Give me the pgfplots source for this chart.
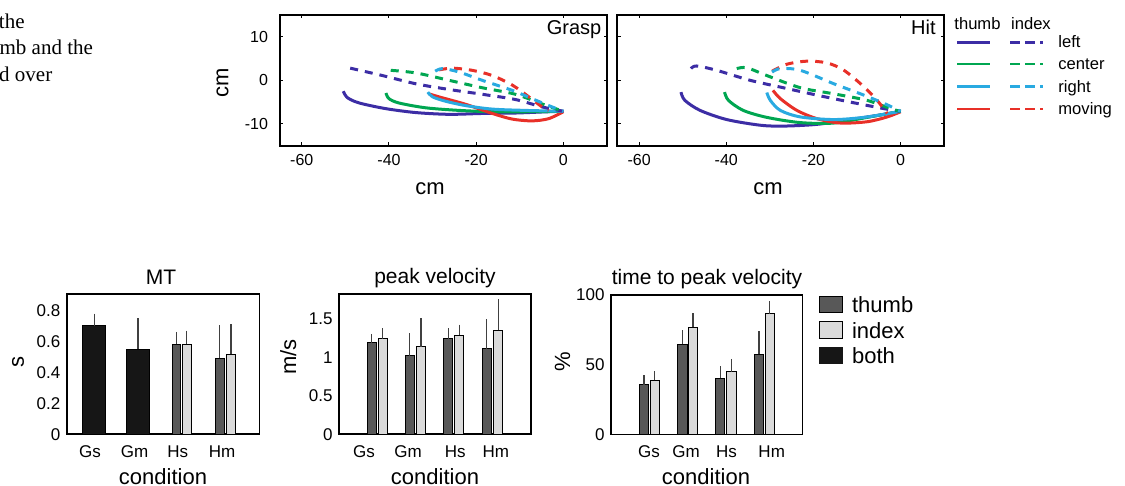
\documentclass[border=0pt]{standalone}
\usepackage{fontspec}
\setmainfont{Liberation Sans}
\newfontfamily\seriffont{Liberation Serif}
\usepackage{pgfplots}
\pgfplotsset{compat=1.18}

\definecolor{cleft}{RGB}{60,45,165}
\definecolor{ccenter}{RGB}{0,166,81}
\definecolor{cright}{RGB}{41,170,225}
\definecolor{cmove}{RGB}{232,48,40}
\definecolor{thumbc}{RGB}{88,88,88}
\definecolor{indexc}{RGB}{218,218,218}
\definecolor{bothc}{RGB}{22,22,22}

\newcommand\fs[1]{\fontsize{#1}{#1}\selectfont}

\pgfplotsset{
  topax/.style={scale only axis, width=163.5pt, height=65.35pt,
    xmin=-65, xmax=10, ymin=-15, ymax=15,
    xtick={-60,-40,-20,0}, ytick={-10,0,10},
    tick align=inside, tick pos=both, major tick length=1.7pt,
    axis line style={line width=1pt}, tick style={black, line width=0.5pt},
    ticklabel style={font=\fs{8}},
    xticklabel style={anchor=base, inner sep=0pt, yshift=-10pt},
    yticklabel style={anchor=east, inner sep=0pt, xshift=-5.85pt},
    /pgf/number format/assume math mode=true},
  botax/.style={scale only axis, width=96pt, height=70pt, ymin=0,
    major tick length=0pt, axis line style={line width=0.8pt},
    ticklabel style={font=\fs{8.5}},
    xticklabel style={anchor=base, inner sep=0pt, yshift=-11.5pt},
    yticklabel style={anchor=east, inner sep=0pt, xshift=-3pt},
    xticklabels={Gs,Gm,Hs,Hm},
    /pgf/number format/assume math mode=true},
  sol/.style={line width=1.5pt, smooth, tension=0.5},
  dsh/.style={line width=1.5pt, smooth, tension=0.5, dash pattern=on 4pt off 3.5pt},
  bars/.style={ybar, bar shift=0pt, draw=black, line width=0.5pt,
    error bars/y dir=plus, error bars/y explicit,
    error bars/error bar style={black!75, line width=0.6pt},
    error bars/error mark options={black!75, mark size=1pt, line width=0.6pt}},
}

\begin{document}
\begin{tikzpicture}
\useasboundingbox (0,0) rectangle (562.5pt,-243pt);

% cropped caption text from the page
\begin{scope}
\clip (0,0) rectangle (562.5pt,-243pt);
\seriffont\fs{10.5}
\node[anchor=base east, inner sep=0pt] at (12.5pt,-14.15pt) {the};
\node[anchor=base east, inner sep=0pt] at (46.65pt,-27.5pt) {thumb and the};
\node[anchor=base east, inner sep=0pt] at (26.35pt,-40.85pt) {moved over};
\end{scope}

% ---------- Grasp ----------
\begin{axis}[topax, at={(140pt,-7.5pt)}, anchor=north west]
\addplot[cleft, sol] coordinates {(-50.5,-2.5) (-49.5,-4.0) (-46.8,-5.2) (-40.7,-6.5) (-33.8,-7.4) (-26.2,-7.8) (-18.6,-7.6) (-11,-7.5) (-3.4,-7.2) (0,-7.1)};
\addplot[ccenter, sol] coordinates {(-40.7,-2.9) (-40,-4.2) (-37.7,-5.2) (-31.6,-6.3) (-23.9,-6.9) (-16.3,-7.2) (-7.2,-7.2) (0,-7.1)};
\addplot[cmove, sol] coordinates {(-30.8,-3.1) (-28.5,-3.8) (-22.4,-5.5) (-16.3,-7.6) (-11.7,-8.9) (-7.2,-9.3) (-3.4,-8.8) (0,-7.2)};
\addplot[cright, sol] coordinates {(-31.1,-2.7) (-30,-3.8) (-27,-4.8) (-22.4,-5.8) (-16.3,-6.6) (-8.7,-6.9) (0,-7.1)};
\addplot[cleft, dsh] coordinates {(-48.9,2.8) (-41.5,1.1) (-33.8,-0.8) (-26.2,-2.1) (-18.6,-3.2) (-11,-4.4) (-4.9,-6.1) (0,-7.1)};
\addplot[ccenter, dsh] coordinates {(-39.6,2.3) (-33.8,1.7) (-26.2,0) (-18.6,-1.7) (-11,-3.2) (-4.1,-5.7) (0,-7.1)};
\addplot[cmove, dsh] coordinates {(-28.5,2.4) (-25.5,2.8) (-20.9,2.3) (-16.3,1.1) (-11.7,-1.1) (-7.9,-3.8) (-4.9,-6.1) (-3.4,-6.9)};
\addplot[cright, dsh] coordinates {(-29.4,2.1) (-27.7,2.7) (-23.9,1.9) (-18.6,0) (-11.7,-2.3) (-7.2,-4.2) (-2.6,-6.1) (0,-7.1)};
\end{axis}
\node[anchor=base, rotate=90, font=\fs{11}] at (114.15pt,-41.5pt) {cm};
\node[anchor=base, font=\fs{11}] at (215pt,-97.5pt) {cm};
\node[anchor=base east, inner sep=0pt, font=\fs{10}] at (300.85pt,-17.5pt) {Grasp};

% ---------- Hit ----------
\begin{axis}[topax, at={(308.65pt,-7.5pt)}, anchor=north west, yticklabels={}]
\addplot[cleft, sol] coordinates {(-50.4,-2.7) (-49.5,-4.6) (-46,-6.9) (-39.9,-9.0) (-32.2,-10.3) (-26.9,-10.5) (-19.2,-10.1) (-11.5,-9.0) (-3.8,-7.8) (0,-7.1)};
\addplot[ccenter, sol] coordinates {(-40.4,-2.7) (-39.5,-4.6) (-36.1,-6.9) (-30.7,-8.5) (-23,-9.7) (-15.3,-9.8) (-7.7,-8.5) (0,-7.1)};
\addplot[cmove, sol] coordinates {(-29.3,-2.3) (-27.6,-4.2) (-23.8,-6.9) (-19.2,-8.8) (-13.8,-9.8) (-7.7,-9.5) (-3.1,-8.4) (0,-7.2)};
\addplot[cright, sol] coordinates {(-30.7,-2.8) (-29.9,-4.6) (-27.6,-6.9) (-23,-8.4) (-15.3,-9.0) (-7.7,-8.4) (0,-7.1)};
\addplot[cleft, dsh] coordinates {(-48.1,2.7) (-46.8,3.3) (-42.2,2.3) (-34.5,0) (-26.9,-1.7) (-19.2,-3.4) (-11.5,-5.0) (-3.8,-6.5) (0,-7.1)};
\addplot[ccenter, dsh] coordinates {(-37.6,2.7) (-35.3,2.9) (-30.7,1.1) (-23,-1.7) (-15.3,-3.1) (-7.7,-4.6) (-2.3,-6.5) (0,-7.1)};
\addplot[cmove, dsh] coordinates {(-29.5,2.1) (-26.1,3.7) (-21.5,4.4) (-16.9,4.0) (-13,2.3) (-8.4,-1.5) (-5.4,-4.6) (-3.1,-7.6)};
\addplot[cright, dsh] coordinates {(-29.5,1.9) (-27.6,2.7) (-23,2.3) (-15.3,-0.8) (-9.2,-3.1) (-3.8,-5.3) (0,-7.1)};
\end{axis}
\node[anchor=base, font=\fs{11}] at (384pt,-97.5pt) {cm};
\node[anchor=base east, inner sep=0pt, font=\fs{10}] at (468pt,-17.15pt) {Hit};

% top legend
\begin{scope}[font=\fs{8.3}]
\node[anchor=base west, inner sep=0pt] at (477pt,-14.65pt) {thumb};
\node[anchor=base west, inner sep=0pt] at (505.35pt,-14.65pt) {index};
\foreach \c/\l/\y in {cleft/left/-21.15, ccenter/center/-32, cright/right/-43.35, cmove/moving/-54.5}{
  \draw[\c, line width=1.3pt] (478.5pt,\y pt) -- (495pt,\y pt);
  \draw[\c, line width=1.3pt, dash pattern=on 5pt off 2.5pt] (505pt,\y pt) -- (521.5pt,\y pt);
  \node[anchor=base west, inner sep=0pt] at (529pt,\y pt-2.7pt) {\l};
}
\end{scope}

% ---------- MT ----------
\begin{axis}[botax, at={(33.35pt,-147.15pt)}, anchor=north west, width=96.3pt, height=70pt,
  xmin=0.37, xmax=4.78, ymax=0.908, ytick={0,0.2,0.4,0.6,0.8},
  xtick={0.904,1.923,2.912,3.926}]
\addplot[bars, fill=bothc, bar width=0.53] coordinates {(1,0.704) +- (0,0.065) (2.003,0.553) +- (0,0.188)};
\addplot[bars, fill=thumbc, bar width=0.2] coordinates {(2.884,0.584) +- (0,0.068) (3.873,0.493) +- (0,0.201)};
\addplot[bars, fill=indexc, bar width=0.2] coordinates {(3.12,0.584) +- (0,0.075) (4.132,0.519) +- (0,0.183)};
\end{axis}
\node[anchor=base, font=\fs{10.5}] at (80.5pt,-142.15pt) {MT};
\node[anchor=base, rotate=90, font=\fs{11}] at (12pt,-181pt) {s};
\node[anchor=base, font=\fs{11}] at (81.5pt,-242pt) {condition};

% ---------- peak velocity ----------
\begin{axis}[botax, at={(169.5pt,-147.15pt)}, anchor=north west, width=95.85pt, height=70pt,
  xmin=0, xmax=5, ymax=1.82, ytick={0,0.5,1,1.5},
  xtick={0.652,1.8,3.03,4.09}]
\addplot[bars, fill=thumbc, bar width=0.235] coordinates {(0.855,1.19) +- (0,0.09) (1.843,1.02) +- (0,0.27) (2.848,1.24) +- (0,0.11) (3.855,1.11) +- (0,0.36)};
\addplot[bars, fill=indexc, bar width=0.235] coordinates {(1.139,1.24) +- (0,0.11) (2.139,1.135) +- (0,0.345) (3.135,1.29) +- (0,0.11) (4.152,1.35) +- (0,0.38)};
\end{axis}
\node[anchor=base, font=\fs{10.5}] at (217.5pt,-141.9pt) {peak velocity};
\node[anchor=base, rotate=90, font=\fs{11}] at (148pt,-178.5pt) {m/s};
\node[anchor=base, font=\fs{11}] at (217.5pt,-242pt) {condition};

% ---------- time to peak velocity ----------
\begin{axis}[botax, at={(305.5pt,-147.5pt)}, anchor=north west, width=95.65pt, height=69.65pt,
  xmin=0, xmax=5, ymax=100, ytick={0,50,100},
  xtick={0.993,1.96,3.02,4.2}]
\addplot[bars, fill=thumbc, bar width=0.243] coordinates {(0.862,35.4) +- (0,5.5) (1.865,64.6) +- (0,8.6) (2.854,40.2) +- (0,7.2) (3.868,57.4) +- (0,15.1)};
\addplot[bars, fill=indexc, bar width=0.243] coordinates {(1.141,38.8) +- (0,5.2) (2.143,76.8) +- (0,8.6) (3.146,45) +- (0,7.8) (4.147,86.6) +- (0,7.4)};
\end{axis}
\node[anchor=base, font=\fs{10.5}] at (353.5pt,-142.15pt) {time to peak velocity};
\node[anchor=base, rotate=90, font=\fs{11}] at (285pt,-180.85pt) {\%};
\node[anchor=base, font=\fs{11}] at (353pt,-242pt) {condition};

% bottom legend
\begin{scope}[font=\fs{11}]
\filldraw[fill=thumbc, draw=black, line width=0.5pt] (409.65pt,-148.35pt) rectangle (421.35pt,-156.35pt);
\filldraw[fill=indexc, draw=black, line width=0.5pt] (409.65pt,-160.85pt) rectangle (421.35pt,-169.15pt);
\filldraw[fill=bothc, draw=bothc, line width=0.5pt] (409.65pt,-173.85pt) rectangle (421.35pt,-181.65pt);
\node[anchor=base west, inner sep=0pt] at (425.85pt,-156.35pt) {thumb};
\node[anchor=base west, inner sep=0pt] at (425.85pt,-169.15pt) {index};
\node[anchor=base west, inner sep=0pt] at (425.85pt,-181.65pt) {both};
\end{scope}
\end{tikzpicture}
\end{document}
